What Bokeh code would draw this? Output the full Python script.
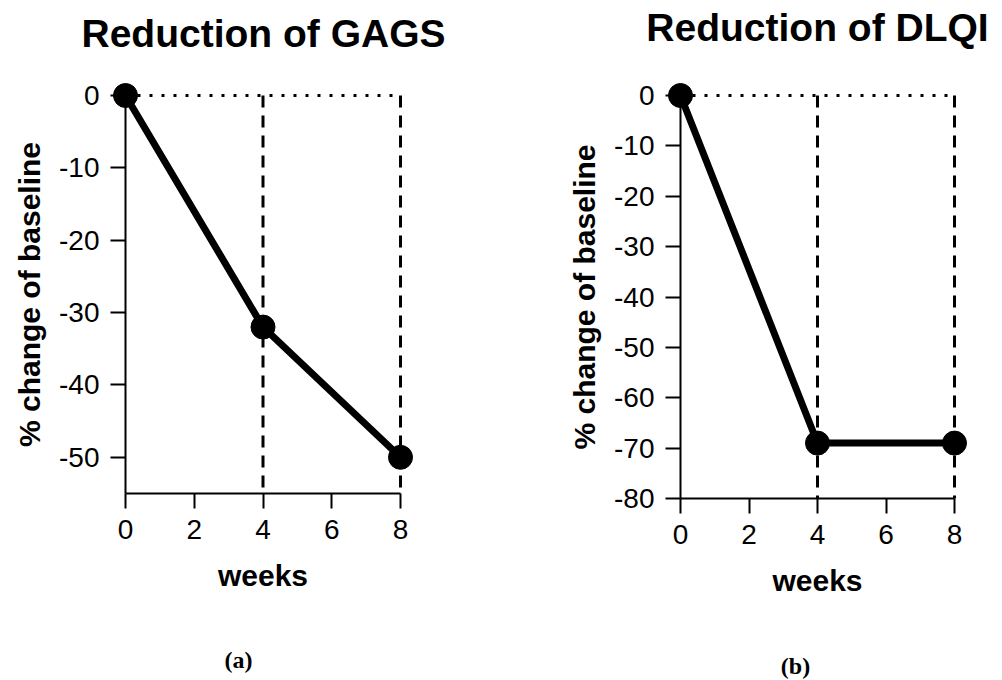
from bokeh.plotting import figure
from bokeh.layouts import row
from bokeh.models import FixedTicker, Range1d, Label
from bokeh.embed import file_html
from bokeh.resources import INLINE

# ---- data ----
weeks = [0, 4, 8]
gags_change = [0, -32, -50]
dlqi_change = [0, -69, -69]
x_ticks = [0, 2, 4, 6, 8]
gags_y_ticks = [0, -10, -20, -30, -40, -50]
dlqi_y_ticks = [0, -10, -20, -30, -40, -50, -60, -70, -80]
gags_y_min = -55
dlqi_y_min = -80
baseline = 0
titles = ["Reduction of GAGS", "Reduction of DLQI"]
captions = ["(a)", "(b)"]
x_label = "weeks"
y_label = "% change of baseline"

FONT = "Liberation Sans"


def make_panel(title, caption, vals, yticks, ymin, width, height,
               ox, oy, ppx, ppy, title_pos, cap_pos):
    """ox, oy: pixel position of the data origin inside the figure;
    ppx, ppy: pixels per data unit."""
    xr = Range1d(-ox / ppx, (width - ox) / ppx)
    yr = Range1d((oy - height) / ppy, oy / ppy)

    def dx(sx):
        return (sx - ox) / ppx

    def dy(sy):
        return (oy - sy) / ppy

    p = figure(width=width, height=height, output_backend="svg", toolbar_location=None,
               x_range=xr, y_range=yr,
               min_border_left=0, min_border_right=0,
               min_border_top=0, min_border_bottom=0)
    p.outline_line_color = None
    p.grid.visible = False
    p.background_fill_color = "white"
    p.border_fill_color = "white"

    for ax in (p.xaxis[0], p.yaxis[0]):
        ax.axis_line_width = 2
        ax.axis_line_color = "black"
        ax.major_tick_line_width = 2
        ax.major_tick_line_color = "black"
        ax.major_tick_out = 15
        ax.major_tick_in = 0
        ax.minor_tick_line_color = None
        ax.major_label_text_font = FONT
        ax.major_label_text_font_size = "28px"
        ax.major_label_text_color = "black"
        ax.axis_label_text_font = FONT
        ax.axis_label_text_font_size = "30px"
        ax.axis_label_text_font_style = "bold"
        ax.axis_label_text_color = "black"

    xa = p.xaxis[0]
    xa.ticker = FixedTicker(ticks=x_ticks)
    xa.bounds = (weeks[0], weeks[-1])
    xa.fixed_location = ymin
    xa.axis_label = x_label
    xa.major_label_standoff = 11
    xa.axis_label_standoff = 17

    ya = p.yaxis[0]
    ya.ticker = FixedTicker(ticks=yticks)
    ya.major_label_overrides = {t: str(t) for t in yticks}
    ya.bounds = (ymin, baseline)
    ya.fixed_location = weeks[0]
    ya.axis_label = y_label
    ya.major_label_standoff = 11
    ya.axis_label_standoff = 10

    # reference lines
    p.line([weeks[0], weeks[-1]], [baseline, baseline], line_color="black",
           line_width=3, line_dash="3 9")
    p.segment(x0=weeks[1:], y0=[baseline] * (len(weeks) - 1), x1=weeks[1:],
              y1=[ymin] * (len(weeks) - 1), line_color="black", line_width=3,
              line_dash="12 8")

    # data
    p.line(weeks, vals, line_color="black", line_width=7)
    p.scatter(weeks, vals, size=24, color="black")

    p.add_layout(Label(x=dx(title_pos[0]), y=dy(title_pos[1]), text=title,
                       text_font=FONT, text_font_size="39px", text_font_style="bold",
                       text_align="center", text_baseline="middle",
                       text_color="black"))
    p.add_layout(Label(x=dx(cap_pos[0]), y=dy(cap_pos[1]), text=caption,
                       text_font="Liberation Serif", text_font_size="24px",
                       text_font_style="bold", text_align="center",
                       text_baseline="middle", text_color="black"))
    return p


p1 = make_panel(titles[0], captions[0], gags_change, gags_y_ticks, gags_y_min,
                500, 680, 125, 95, 275 / 8, 398 / 55, (263, 32.5), (238, 659))
p2 = make_panel(titles[1], captions[1], dlqi_change, dlqi_y_ticks, dlqi_y_min,
                500, 680, 180, 95, 274 / 8, 403 / 80, (317, 26.5), (295, 665))

layout = row(p1, p2)
open("out.html", "w").write(file_html(layout, INLINE))
